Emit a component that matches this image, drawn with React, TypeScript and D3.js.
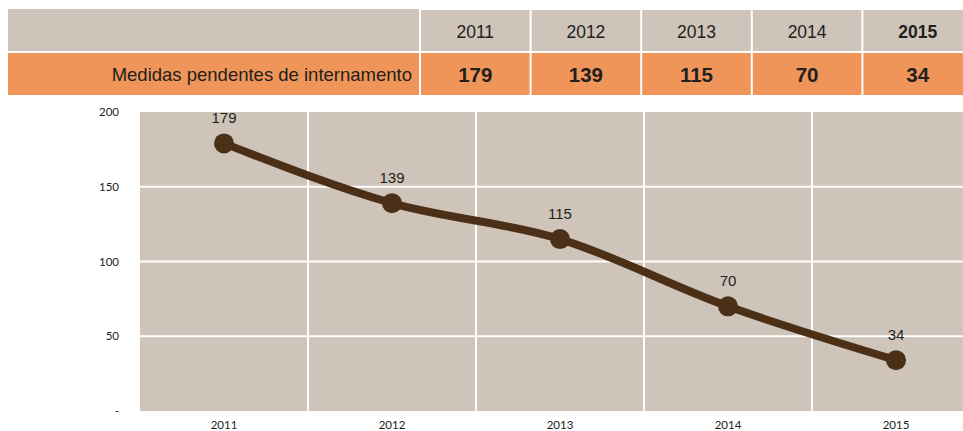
import { useEffect, useRef } from "react";
import * as d3 from "d3";

const years = ["2011", "2012", "2013", "2014", "2015"];
const pendentes = [179, 139, 115, 70, 34];
const rowLabel = "Medidas pendentes de internamento";
const yTicks = [0, 50, 100, 150, 200];

export default function App() {
  const svgRef = useRef<SVGSVGElement>(null);

  useEffect(() => {
    if (!svgRef.current) return;
    const svg = d3.select(svgRef.current);
    svg.selectAll("*").remove();

    const width = 963;
    const height = 431;
    svg.attr("width", width).attr("height", height);

    const beige = "#cfc4b9";
    const orange = "#f0955a";
    const brown = "#4b3017";

    // Table
    const tX = d3.scaleBand().domain(years).range([420, 973]).paddingInner(0);
    const table = svg.append("g");
    table.append("rect").attr("x", 8).attr("y", 9).attr("width", 411).attr("height", 42).attr("fill", beige);
    table.append("rect").attr("x", 8).attr("y", 53).attr("width", 411).attr("height", 42).attr("fill", orange);
    table
      .append("text")
      .attr("x", 412)
      .attr("y", 81)
      .attr("text-anchor", "end")
      .attr("font-family", "Liberation Sans, Arial, sans-serif")
      .attr("font-size", "18.5px")
      .attr("fill", "#231f1c")
      .text(rowLabel);

    years.forEach((yr, i) => {
      const x = tX(yr)! + 1;
      const w = tX.bandwidth() - 2;
      const last = i === years.length - 1;
      table.append("rect").attr("x", x).attr("y", 10).attr("width", w).attr("height", 41).attr("fill", beige);
      table.append("rect").attr("x", x).attr("y", 53).attr("width", w).attr("height", 42).attr("fill", orange);
      table
        .append("text")
        .attr("x", x + w / 2)
        .attr("y", 38)
        .attr("text-anchor", "middle")
        .attr("font-family", "Liberation Sans, Arial, sans-serif")
        .attr("font-size", "17.5px")
        .attr("font-weight", last ? "700" : "400")
        .attr("fill", "#231f1c")
        .text(yr);
      table
        .append("text")
        .attr("x", x + w / 2)
        .attr("y", 82)
        .attr("text-anchor", "middle")
        .attr("font-family", "Liberation Sans, Arial, sans-serif")
        .attr("font-size", "20.5px")
        .attr("font-weight", "700")
        .attr("fill", "#231f1c")
        .text(pendentes[i]);
    });

    // Chart
    const xScale = d3.scaleBand().domain(years).range([140, 980]);
    const yScale = d3.scaleLinear().domain([0, 200]).range([411, 112]);

    const g = svg.append("g");
    g.append("rect")
      .attr("x", 140)
      .attr("y", yScale(200))
      .attr("width", 840)
      .attr("height", yScale(0) - yScale(200))
      .attr("fill", beige);

    // Grid lines
    yTicks.slice(1, -1).forEach((t) => {
      g.append("line")
        .attr("x1", 140)
        .attr("x2", 980)
        .attr("y1", yScale(t))
        .attr("y2", yScale(t))
        .attr("stroke", "#fff")
        .attr("stroke-width", 2);
    });
    years.slice(1).forEach((yr) => {
      g.append("line")
        .attr("x1", xScale(yr)!)
        .attr("x2", xScale(yr)!)
        .attr("y1", yScale(200))
        .attr("y2", yScale(0))
        .attr("stroke", "#fff")
        .attr("stroke-width", 2);
    });

    // Y tick labels
    yTicks.forEach((t) => {
      g.append("text")
        .attr("x", 119)
        .attr("y", yScale(t) + 4)
        .attr("text-anchor", "end")
        .attr("font-family", "Lato, sans-serif")
        .attr("font-size", "11.5px")
        .attr("fill", "#231f1c")
        .text(t === 0 ? "-" : t);
    });

    // X tick labels
    years.forEach((yr) => {
      g.append("text")
        .attr("x", xScale(yr)! + xScale.bandwidth() / 2)
        .attr("y", 429)
        .attr("text-anchor", "middle")
        .attr("font-family", "Lato, sans-serif")
        .attr("font-size", "11.5px")
        .attr("fill", "#231f1c")
        .text(yr);
    });

    const pts = years.map((yr, i) => ({
      x: xScale(yr)! + xScale.bandwidth() / 2,
      y: yScale(pendentes[i]),
      v: pendentes[i],
    }));

    const line = d3
      .line<{ x: number; y: number }>()
      .x((d) => d.x)
      .y((d) => d.y)
      .curve(d3.curveMonotoneX);

    g.append("path")
      .datum(pts)
      .attr("fill", "none")
      .attr("stroke", brown)
      .attr("stroke-width", 8)
      .attr("stroke-linejoin", "round")
      .attr("d", line);

    pts.forEach((p) => {
      g.append("circle").attr("cx", p.x).attr("cy", p.y).attr("r", 10).attr("fill", brown);
      g.append("text")
        .attr("x", p.x)
        .attr("y", p.y - 20)
        .attr("text-anchor", "middle")
        .attr("font-family", "Liberation Sans, Arial, sans-serif")
        .attr("font-size", "15px")
        .attr("fill", "#231f1c")
        .text(p.v);
    });
  }, []);

  return (
    <svg
      ref={svgRef}
      style={{ position: "absolute", left: 0, top: 0, display: "block" }}
    />
  );
}
